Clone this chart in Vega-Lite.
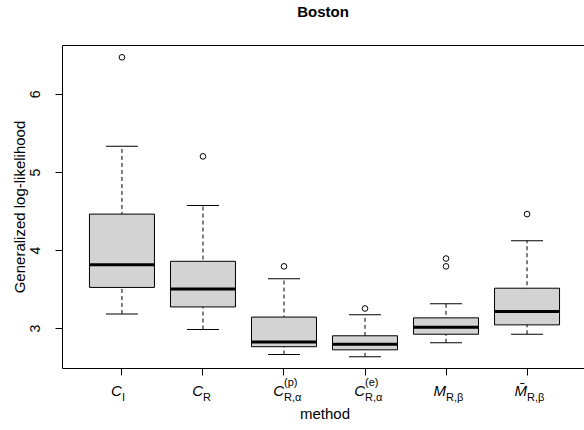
{
  "$schema": "https://vega.github.io/schema/vega-lite/v6.json",
  "width": 522,
  "height": 323,
  "autosize": {"type": "none"},
  "padding": {"left": 62, "top": 45, "right": 0, "bottom": 62},
  "title": {"text": "Boston", "fontSize": 15, "fontWeight": "bold", "font": "Liberation Sans", "anchor": "middle", "frame": "group", "offset": 13, "baseline": "alphabetic", "color": "black"},
  "config": {
    "view": {"stroke": null},
    "font": "Liberation Sans",
    "axis": {"domainColor": "black", "tickColor": "black", "labelColor": "black", "titleColor": "black", "grid": false, "titleFontWeight": "normal", "labelFont": "Liberation Sans", "titleFont": "Liberation Sans"}
  },
  "datasets": {
    "stats": [
      {"method": "CI", "lower": 3.18, "q1": 3.52, "median": 3.81, "q3": 4.46, "upper": 5.33},
      {"method": "CR", "lower": 2.98, "q1": 3.27, "median": 3.50, "q3": 3.855, "upper": 4.57},
      {"method": "Cp", "lower": 2.66, "q1": 2.76, "median": 2.82, "q3": 3.14, "upper": 3.63},
      {"method": "Ce", "lower": 2.63, "q1": 2.72, "median": 2.79, "q3": 2.90, "upper": 3.17},
      {"method": "M", "lower": 2.81, "q1": 2.92, "median": 3.01, "q3": 3.13, "upper": 3.31},
      {"method": "Mbar", "lower": 2.92, "q1": 3.04, "median": 3.21, "q3": 3.51, "upper": 4.12}
    ],
    "outliers": [
      {"method": "CI", "value": 6.47},
      {"method": "CR", "value": 5.20},
      {"method": "Cp", "value": 3.79},
      {"method": "Ce", "value": 3.25},
      {"method": "M", "value": 3.79},
      {"method": "M", "value": 3.89},
      {"method": "Mbar", "value": 4.46}
    ]
  },
  "layer": [
    {
      "data": {"name": "stats"},
      "encoding": {
        "x": {
          "field": "method", "type": "nominal",
          "sort": ["CI", "CR", "Cp", "Ce", "M", "Mbar"],
          "scale": {"domain": ["CI", "CR", "Cp", "Ce", "M", "Mbar"], "range": [0, 525], "paddingInner": 0, "paddingOuter": 0.24},
          "axis": {
            "orient": "bottom", "title": "method", "titleFontSize": 15, "titleY": 50, "titleBaseline": "alphabetic",
            "labelExpr": "({'CI':'C','CR':'C','Cp':'C','Ce':'C','M':'M','Mbar':'M\u0304'})[datum.value]",
            "labelFontStyle": "italic", "labelFontSize": 15, "labelAlign": "right", "labelBaseline": "alphabetic",
            "labelPadding": 20, "labelAngle": 0, "tickSize": 7, "domain": true, "labelOverlap": false
          }
        }
      },
      "layer": [
        {
          "mark": {"type": "rule", "strokeDash": [4, 3], "color": "black", "strokeWidth": 1},
          "encoding": {
            "y": {
              "field": "lower", "type": "quantitative", "title": "Generalized log-likelihood",
              "scale": {"domain": [2.487, 6.628], "nice": false, "zero": false},
              "axis": {
                "values": [3, 4, 5, 6], "format": "d", "labelAngle": 270, "labelAlign": "center", "labelBaseline": "alphabetic",
                "labelPadding": 16, "tickSize": 7, "labelFontSize": 14, "titleFontSize": 15, "titleAngle": 270,
                "titleX": -38, "titleY": 161.5, "titleAlign": "center", "titleBaseline": "alphabetic", "domain": true
              }
            },
            "y2": {"field": "upper"}
          }
        },
        {
          "mark": {"type": "bar", "size": 65, "fill": "#D3D3D3", "stroke": "black", "strokeWidth": 1},
          "encoding": {
            "y": {"field": "q1", "type": "quantitative", "title": "Generalized log-likelihood"},
            "y2": {"field": "q3"}
          }
        },
        {
          "mark": {"type": "tick", "size": 65, "thickness": 3, "color": "black", "opacity": 1},
          "encoding": {"y": {"field": "median", "type": "quantitative", "title": "Generalized log-likelihood"}}
        },
        {
          "mark": {"type": "tick", "size": 32, "thickness": 1, "color": "black", "opacity": 1},
          "encoding": {"y": {"field": "lower", "type": "quantitative", "title": "Generalized log-likelihood"}}
        },
        {
          "mark": {"type": "tick", "size": 32, "thickness": 1, "color": "black", "opacity": 1},
          "encoding": {"y": {"field": "upper", "type": "quantitative", "title": "Generalized log-likelihood"}}
        },
        {
          "data": {"name": "outliers"},
          "mark": {"type": "point", "shape": "circle", "filled": false, "color": "black", "size": 32, "strokeWidth": 1, "opacity": 1},
          "encoding": {"y": {"field": "value", "type": "quantitative", "title": "Generalized log-likelihood"}}
        }
      ]
    },
    {
      "data": {"name": "stats"},
      "mark": {"type": "tick", "opacity": 0},
      "encoding": {
        "x": {
          "field": "method", "type": "nominal",
          "sort": ["CI", "CR", "Cp", "Ce", "M", "Mbar"],
          "scale": {"domain": ["CI", "CR", "Cp", "Ce", "M", "Mbar"], "range": [0, 525], "paddingInner": 0, "paddingOuter": 0.24},
          "axis": {
            "orient": "bottom", "title": null, "domain": false, "ticks": false, "tickSize": 0,
            "labelExpr": "({'CI':'\u00a0I','CR':'R','Cp':'R,\u03b1','Ce':'R,\u03b1','M':'R,\u03b2','Mbar':'R,\u03b2'})[datum.value]",
            "labelFontSize": 11, "labelAlign": "left", "labelBaseline": "alphabetic", "labelPadding": 32, "labelDx": 1, "labelAngle": 0, "labelOverlap": false
          }
        },
        "y": {"field": "median", "type": "quantitative", "title": "Generalized log-likelihood"}
      }
    },
    {
      "data": {"name": "stats"},
      "mark": {"type": "tick", "opacity": 0},
      "encoding": {
        "x": {
          "field": "method", "type": "nominal",
          "sort": ["CI", "CR", "Cp", "Ce", "M", "Mbar"],
          "scale": {"domain": ["CI", "CR", "Cp", "Ce", "M", "Mbar"], "range": [0, 525], "paddingInner": 0, "paddingOuter": 0.24},
          "axis": {
            "orient": "bottom", "title": null, "domain": false, "ticks": false, "tickSize": 0,
            "labelExpr": "({'Cp':'(p)','Ce':'(e)'})[datum.value] || ''",
            "labelFontSize": 11, "labelAlign": "left", "labelBaseline": "alphabetic", "labelPadding": 17, "labelDx": 0, "labelAngle": 0, "labelOverlap": false
          }
        },
        "y": {"field": "median", "type": "quantitative", "title": "Generalized log-likelihood"}
      }
    },
    {
      "data": {"name": "stats"},
      "mark": {"type": "tick", "opacity": 0},
      "encoding": {
        "x": {
          "field": "method", "type": "nominal",
          "sort": ["CI", "CR", "Cp", "Ce", "M", "Mbar"],
          "scale": {"domain": ["CI", "CR", "Cp", "Ce", "M", "Mbar"], "range": [0, 525], "paddingInner": 0, "paddingOuter": 0.24},
          "axis": {"orient": "top", "title": null, "domain": true, "ticks": false, "labels": false}
        },
        "y": {"field": "median", "type": "quantitative", "title": "Generalized log-likelihood"}
      }
    }
  ],
  "resolve": {"scale": {"x": "independent"}, "axis": {"x": "independent"}}
}
